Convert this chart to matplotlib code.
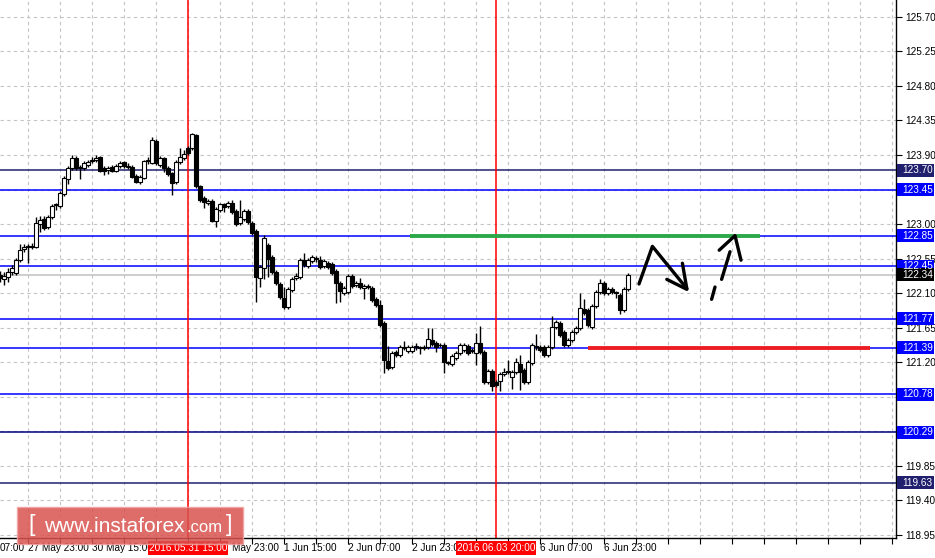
import matplotlib.pyplot as plt
from matplotlib.patches import Rectangle
from matplotlib.transforms import blended_transform_factory

plt.rcParams["font.family"] = ["Liberation Sans", "DejaVu Sans"]

# hourly bars, 27 May 16:00 .. 7 Jun 05:00 (bar index = position on the chart)
opens = [122.34, 122.29, 122.31, 122.38, 122.36, 122.53, 122.68, 122.70, 122.71, 122.70,
         123.00, 123.07, 122.96, 123.09, 123.25, 123.24, 123.39, 123.59, 123.73, 123.86,
         123.73, 123.73, 123.77, 123.82, 123.84, 123.88, 123.73, 123.71, 123.75, 123.69,
         123.76, 123.81, 123.76, 123.75, 123.63, 123.55, 123.60, 123.82, 123.80, 124.08,
         123.77, 123.86, 123.73, 123.67, 123.55, 123.81, 123.86, 123.99, 123.99, 124.16,
         123.49, 123.34, 123.28, 123.30, 123.04, 123.19, 123.26, 123.24, 123.28, 123.17,
         123.02, 123.07, 123.17, 123.02, 122.91, 122.30, 122.43, 122.73, 122.57, 122.38,
         122.22, 122.04, 121.92, 122.14, 122.30, 122.31, 122.53, 122.46, 122.52, 122.56,
         122.53, 122.46, 122.49, 122.48, 122.39, 122.23, 122.10, 122.12, 122.32, 122.21,
         122.23, 122.17, 122.19, 122.17, 122.02, 121.95, 121.71, 121.22, 121.14, 121.33,
         121.29, 121.39, 121.35, 121.35, 121.40, 121.40, 121.39, 121.40, 121.49, 121.45,
         121.42, 121.43, 121.20, 121.18, 121.26, 121.32, 121.36, 121.41, 121.36, 121.32,
         121.45, 121.33, 120.94, 121.09, 120.94, 120.95, 121.05, 121.07, 121.01, 121.07,
         121.18, 121.10, 120.94, 121.19, 121.41, 121.40, 121.40, 121.29, 121.40, 121.66,
         121.71, 121.60, 121.43, 121.49, 121.60, 121.65, 121.89, 121.88, 121.66, 121.93,
         122.12, 122.23, 122.10, 122.15, 122.11, 122.08, 121.88, 122.15]
highs = [122.39, 122.38, 122.43, 122.47, 122.56, 122.74, 122.74, 122.74, 122.75, 123.09,
         123.11, 123.11, 123.12, 123.26, 123.28, 123.43, 123.63, 123.76, 123.90, 123.89,
         123.77, 123.82, 123.84, 123.88, 123.90, 123.89, 123.76, 123.76, 123.77, 123.78,
         123.82, 123.82, 123.80, 123.77, 123.65, 123.64, 123.84, 123.88, 124.14, 124.11,
         123.89, 123.88, 123.76, 123.68, 123.84, 123.99, 123.97, 124.02, 124.19, 124.18,
         123.51, 123.37, 123.33, 123.33, 123.22, 123.28, 123.28, 123.30, 123.32, 123.20,
         123.32, 123.20, 123.20, 123.04, 122.94, 122.47, 122.86, 122.75, 122.60, 122.40,
         122.25, 122.18, 122.18, 122.31, 122.36, 122.56, 122.62, 122.56, 122.60, 122.59,
         122.59, 122.55, 122.52, 122.51, 122.42, 122.26, 122.19, 122.35, 122.35, 122.26,
         122.30, 122.22, 122.22, 122.19, 122.05, 122.01, 121.74, 121.41, 121.35, 121.36,
         121.43, 121.48, 121.43, 121.43, 121.45, 121.41, 121.43, 121.65, 121.65, 121.48,
         121.45, 121.45, 121.22, 121.31, 121.35, 121.45, 121.45, 121.44, 121.39, 121.58,
         121.67, 121.36, 121.11, 121.11, 120.97, 121.07, 121.13, 121.23, 121.10, 121.26,
         121.29, 121.13, 121.23, 121.45, 121.57, 121.43, 121.43, 121.43, 121.80, 121.75,
         121.74, 121.62, 121.52, 121.62, 121.67, 122.10, 122.02, 121.91, 121.96, 122.14,
         122.29, 122.26, 122.18, 122.18, 122.13, 122.10, 122.18, 122.36]
lows = [122.25, 122.21, 122.25, 122.34, 122.34, 122.51, 122.64, 122.49, 122.68, 122.69,
        122.90, 122.92, 122.94, 123.07, 123.19, 123.21, 123.37, 123.52, 123.71, 123.71,
        123.59, 123.71, 123.75, 123.80, 123.81, 123.68, 123.64, 123.65, 123.68, 123.68,
        123.73, 123.73, 123.72, 123.60, 123.54, 123.52, 123.59, 123.78, 123.78, 123.77,
        123.75, 123.68, 123.63, 123.38, 123.52, 123.78, 123.84, 123.90, 123.97, 123.47,
        123.29, 123.21, 123.25, 123.03, 122.96, 123.16, 123.16, 123.21, 123.13, 122.98,
        122.99, 123.04, 123.00, 122.86, 121.99, 122.18, 122.29, 122.31, 122.35, 122.21,
        122.02, 121.89, 121.89, 122.12, 122.27, 122.29, 122.44, 122.43, 122.49, 122.51,
        122.42, 122.43, 122.42, 122.34, 121.97, 121.99, 122.08, 122.09, 122.17, 122.18,
        122.15, 122.02, 122.15, 121.99, 121.92, 121.66, 121.06, 121.10, 121.11, 121.27,
        121.27, 121.36, 121.32, 121.32, 121.36, 121.31, 121.36, 121.37, 121.41, 121.33,
        121.40, 121.06, 121.16, 121.15, 121.23, 121.29, 121.33, 121.29, 121.32, 121.16,
        121.31, 120.92, 120.92, 120.83, 120.88, 120.83, 121.02, 121.05, 120.85, 121.05,
        120.84, 120.92, 120.92, 121.16, 121.36, 121.33, 121.27, 121.27, 121.37, 121.63,
        121.53, 121.40, 121.40, 121.46, 121.57, 121.62, 121.82, 121.66, 121.63, 121.91,
        122.09, 122.08, 122.08, 122.09, 122.04, 121.83, 121.86, 122.13]
closes = [122.30, 122.32, 122.38, 122.43, 122.53, 122.66, 122.70, 122.71, 122.70, 123.02,
          123.05, 122.95, 123.09, 123.24, 123.26, 123.41, 123.60, 123.73, 123.86, 123.73,
          123.75, 123.80, 123.81, 123.84, 123.86, 123.69, 123.69, 123.73, 123.69, 123.76,
          123.80, 123.76, 123.75, 123.61, 123.55, 123.61, 123.82, 123.84, 124.10, 123.80,
          123.86, 123.73, 123.65, 123.54, 123.81, 123.88, 123.91, 123.93, 124.18, 123.49,
          123.32, 123.29, 123.30, 123.04, 123.20, 123.26, 123.22, 123.28, 123.16, 123.00,
          123.09, 123.17, 123.03, 122.89, 122.31, 122.44, 122.82, 122.55, 122.38, 122.23,
          122.05, 121.92, 122.15, 122.29, 122.32, 122.53, 122.47, 122.53, 122.57, 122.55,
          122.44, 122.52, 122.44, 122.36, 122.23, 122.13, 122.17, 122.32, 122.19, 122.23,
          122.18, 122.19, 122.18, 122.01, 121.95, 121.69, 121.23, 121.13, 121.32, 121.29,
          121.40, 121.40, 121.40, 121.40, 121.41, 121.39, 121.40, 121.50, 121.44, 121.40,
          121.43, 121.20, 121.19, 121.28, 121.32, 121.43, 121.43, 121.32, 121.35, 121.45,
          121.33, 120.94, 121.09, 120.89, 120.90, 121.05, 121.07, 121.08, 121.07, 121.20,
          121.07, 120.94, 121.20, 121.43, 121.40, 121.36, 121.29, 121.40, 121.66, 121.73,
          121.56, 121.43, 121.49, 121.60, 121.65, 121.91, 121.84, 121.69, 121.93, 122.12,
          122.23, 122.10, 122.15, 122.12, 122.10, 121.88, 122.15, 122.34]

# time axis labels (the ones under the red marker boxes are hidden there)
time_bars = [-0.1, 7, 23, 58, 71, 87, 103, 135, 151]
time_labels = ["07:00", "27 May 23:00", "30 May 15:00", "May 23:00",
               "1 Jun 15:00", "2 Jun 07:00", "2 Jun 23:0", "6 Jun 07:00", "6 Jun 23:00"]
marker_bars = [47, 124]
marker_labels = ["2016.05.31 15:00", "2016.06.03 20:00"]

price_ticks = [118.95, 119.40, 119.85, 120.30, 120.75, 121.20, 121.65, 122.10,
               122.55, 123.00, 123.45, 123.90, 124.35, 124.80, 125.25, 125.70]
hidden_ticks = [120.30, 120.75, 123.45]
levels = [123.70, 123.45, 122.85, 122.45, 121.77, 121.39, 120.78, 120.29, 119.63]
level_colors = ["#20206e", "#0000ff", "#0000ff", "#0000ff", "#0000ff", "#0000ff", "#0000ff", "#000080", "#20206e"]
level_box_colors = ["#20206e", "#0000ff", "#0000ff", "#0000ff", "#0000ff", "#0000ff", "#0000ff", "#0000ff", "#20206e"]
bid = 122.34

resistance = 122.85
resistance_span = [102.5, 190]
support = 121.39
support_span = [147, 217.5]

# hand drawn forecast strokes (bar, price)
stroke1_x = [159.75, 163.1, 171.7]
stroke1_y = [122.22, 122.71, 122.16]
head1a_x = [166.7, 171.7]
head1a_y = [122.28, 122.15]
head1b_x = [170.6, 171.7]
head1b_y = [122.49, 122.16]
dash1_x = [177.9, 178.75]
dash1_y = [122.02, 122.18]
dash2_x = [180.4, 182.5]
dash2_y = [122.28, 122.64]
head2_x = [179.8, 183.75, 185.25]
head2_y = [122.66, 122.85, 122.53]

W, H = 935, 558
fig = plt.figure(figsize=(W / 100, H / 100), dpi=100)
ax = fig.add_axes([0, 20 / H, 896 / W, 538 / H])
ax.set_xlim(0, 224)
ax.set_ylim(118.91, 125.92)

for s in ["top", "left"]:
    ax.spines[s].set_visible(False)
ax.spines["right"].set_linewidth(1)
ax.spines["bottom"].set_linewidth(1)

# grid
for p in price_ticks:
    ax.axhline(p, color="#c4c4c4", lw=0.8, ls=(0, (3, 3)), zorder=0)
for b in range(7, 224, 8):
    ax.axvline(b, color="#c4c4c4", lw=0.8, ls=(0, (3, 3)), zorder=0)

# levels
for lv, c in zip(levels, level_colors):
    ax.axhline(lv, color=c, lw=1.1, zorder=1)
ax.axhline(bid, color="#c0c0c0", lw=1.1, zorder=1)
for b in marker_bars:
    ax.axvline(b, color="#ff0000", lw=1.1, zorder=1)

ax.plot(resistance_span, [resistance, resistance], color="#2ca84a", lw=2.8, solid_capstyle="butt", zorder=3)
ax.plot(support_span, [support, support], color="#ee1c24", lw=2.8, solid_capstyle="butt", zorder=3)

# candles
for i in range(len(closes)):
    o, h, l, c = opens[i], highs[i], lows[i], closes[i]
    ax.vlines(i, l, h, color="black", lw=1.0, zorder=4)
    bottom = min(o, c)
    height = max(abs(c - o), 0.008)
    face = "white" if c >= o else "black"
    ax.bar(i, height, bottom=bottom, width=0.78, color=face, edgecolor="black", lw=0.8, zorder=5)

for xs, ys in [(stroke1_x, stroke1_y), (head1a_x, head1a_y), (head1b_x, head1b_y),
               (dash1_x, dash1_y), (dash2_x, dash2_y), (head2_x, head2_y)]:
    ax.plot(xs, ys, color="black", lw=2.4, solid_capstyle="round", zorder=6)

# axes ticks
ax.set_yticks(price_ticks)
ax.set_yticklabels(["" if p in hidden_ticks else "%.2f" % p for p in price_ticks])
ax.yaxis.tick_right()
ax.tick_params(axis="y", direction="out", length=4, width=0.8, labelsize=7.2, pad=3)
ax.set_xticks(list(range(7, 224, 8)))
ax.set_xticklabels([])
ax.tick_params(axis="x", direction="out", length=4, width=0.8)

trans_x = blended_transform_factory(ax.transData, ax.transAxes)
trans_y = blended_transform_factory(ax.transAxes, ax.transData)

for b, t in zip(time_bars, time_labels):
    ax.text(b, -0.019, t, transform=trans_x, ha="left", va="center", fontsize=7.2, clip_on=False, zorder=7)

for b, t in zip(marker_bars, marker_labels):
    ax.add_patch(Rectangle((b - 10, -0.031), 20, 0.025, transform=trans_x, facecolor="#ff0000",
                           edgecolor="none", clip_on=False, zorder=8))
    ax.text(b, -0.019, t, transform=trans_x, ha="center", va="center", fontsize=7.2, color="white",
            clip_on=False, zorder=9)

boxes = levels + [bid]
box_colors = level_box_colors + ["black"]
for lv, c in zip(boxes, box_colors):
    ax.add_patch(Rectangle((1.001, lv - 0.085), 0.041, 0.17, transform=trans_y, facecolor=c,
                           edgecolor="none", clip_on=False, zorder=8))
    ax.text(1.0065, lv, "%.2f" % lv, transform=trans_y, ha="left", va="center", fontsize=7.2,
            color="white", clip_on=False, zorder=9)

# watermark
fig.patches.append(Rectangle((17 / W, 14 / H), 226 / W, 37 / H, transform=fig.transFigure,
                             facecolor="#d9534f", alpha=0.85, edgecolor="#f0a0a0", lw=1, zorder=10))
fig.text(28 / W, 33 / H, "[", color="white", fontsize=17, va="center", ha="left", zorder=11)
fig.text(44 / W, 32 / H, "www.instaforex", color="white", fontsize=15, va="center", ha="left", zorder=11)
fig.text(186 / W, 31 / H, ".com", color="white", fontsize=12, va="center", ha="left", zorder=11)
fig.text(226 / W, 33 / H, "]", color="white", fontsize=17, va="center", ha="left", zorder=11)

fig.savefig("out.png", dpi=100, facecolor="white")
